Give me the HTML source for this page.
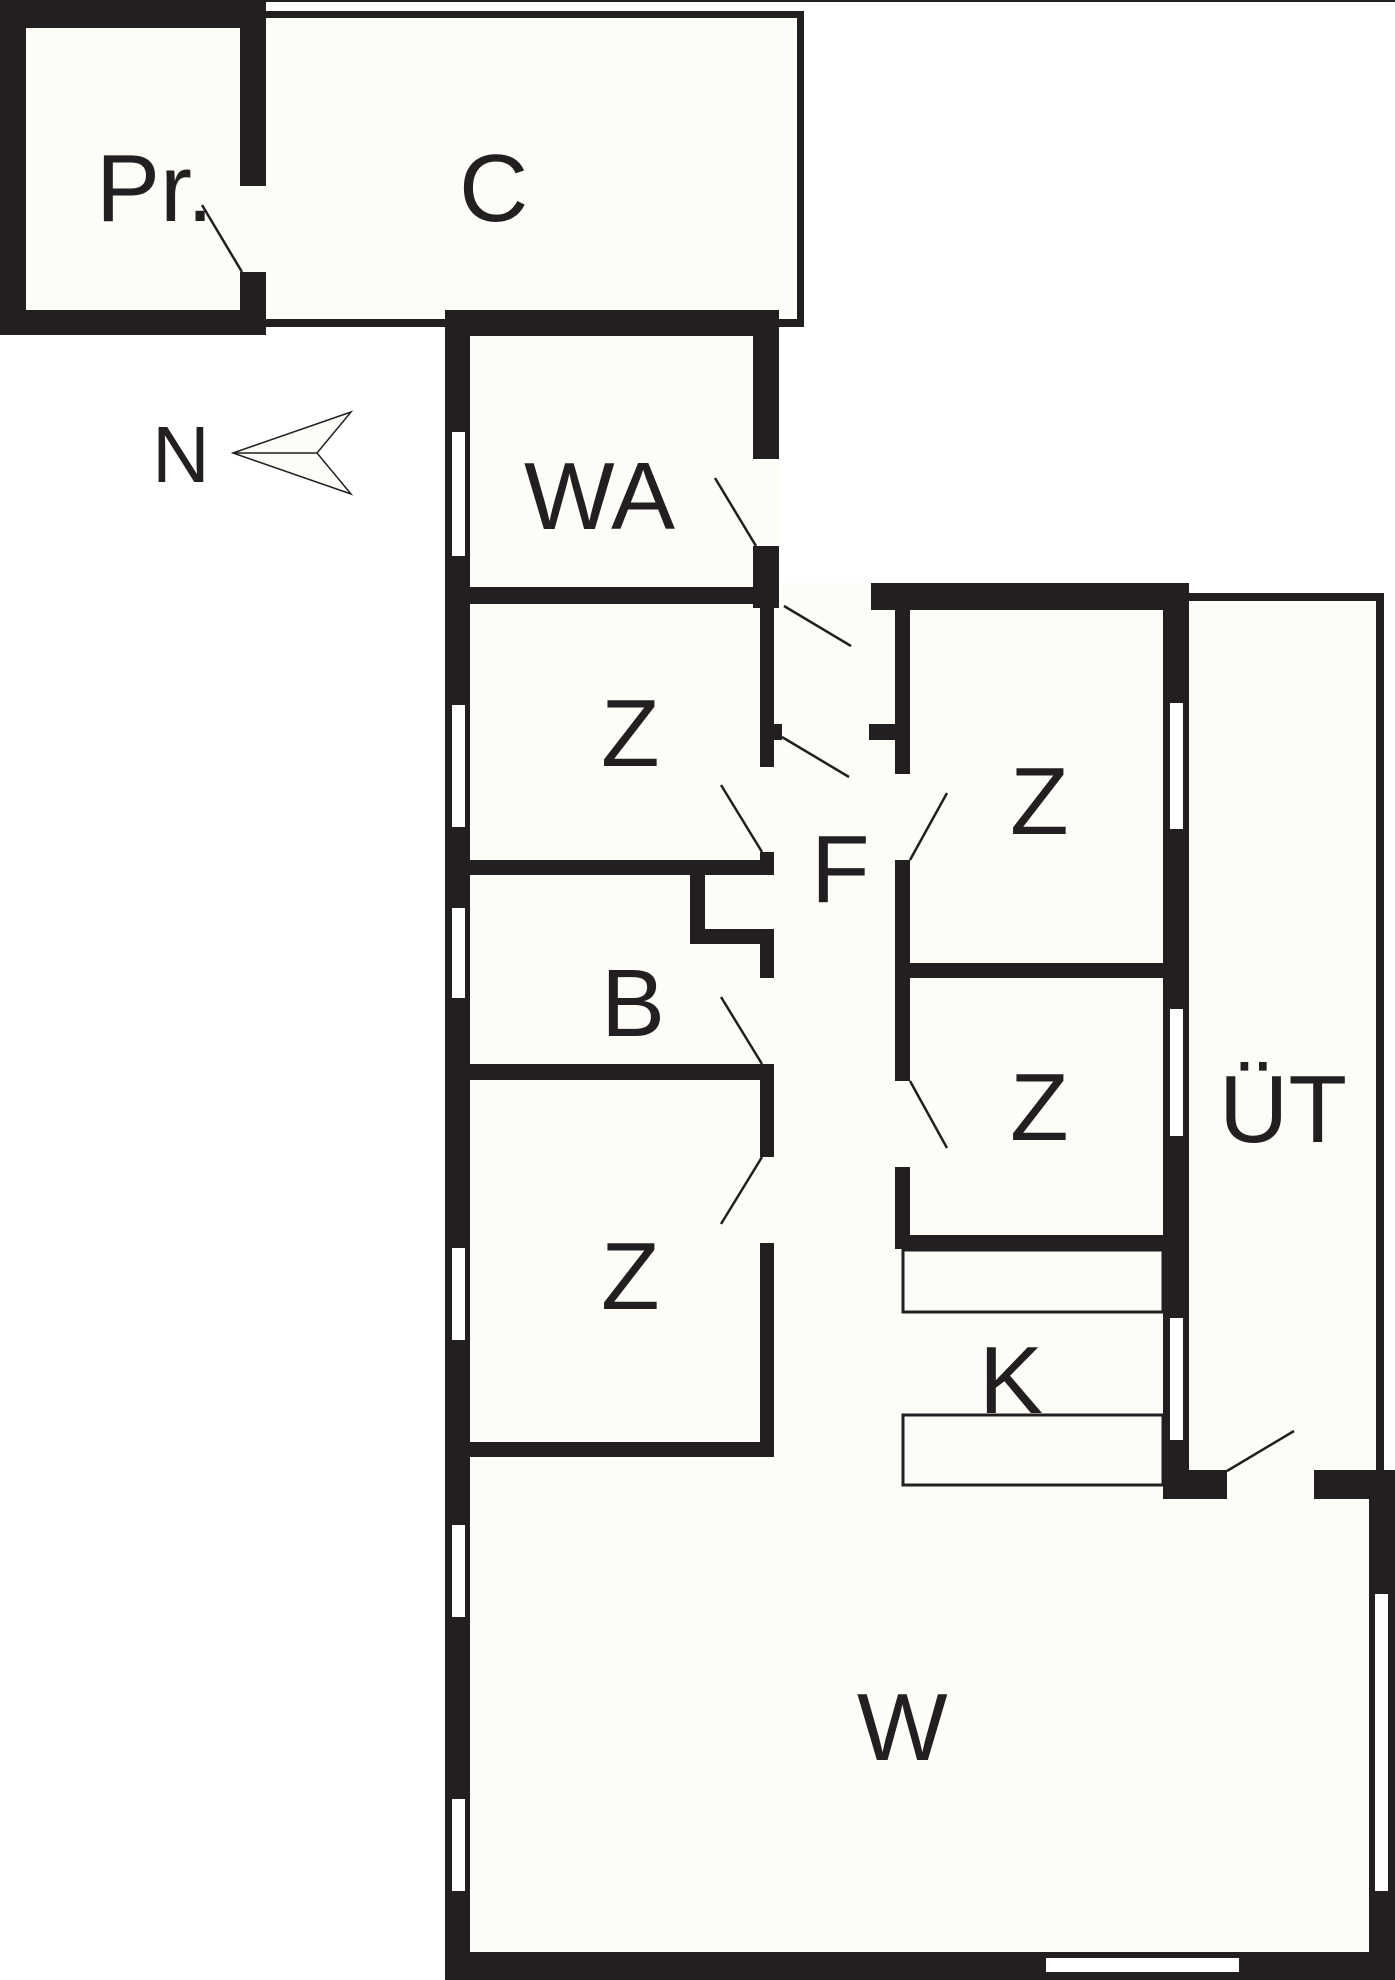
<!DOCTYPE html>
<html><head><meta charset="utf-8"><style>
html,body{margin:0;padding:0;background:#fff}
svg{display:block}
text{font-family:"Liberation Sans",sans-serif;fill:#231f20}
</style></head><body>
<svg width="1395" height="1980" viewBox="0 0 1395 1980" xmlns="http://www.w3.org/2000/svg">
<g fill="#fdfdf8">
<rect x="445" y="310" width="334" height="1670"/>
<rect x="774" y="583" width="415" height="1397"/>
<rect x="1189" y="593" width="196" height="1387"/>
<rect x="1385" y="1470" width="10" height="510"/>
</g>
<rect x="0" y="0" width="1395" height="2" fill="#231f20"/>
<!-- Pr -->
<rect x="0" y="2" width="266" height="333" fill="#231f20"/>
<rect x="26" y="28" width="214" height="282" fill="#fdfdf8"/>
<rect x="240" y="186" width="26" height="86" fill="#fdfdf8"/>
<!-- C -->
<rect x="266" y="11" width="538" height="316" fill="#231f20"/>
<rect x="266" y="18" width="531" height="301" fill="#fdfdf8"/>
<g fill="#231f20">
<rect x="445" y="310" width="334" height="26"/>
<rect x="445" y="310" width="25" height="1670"/>
<rect x="753" y="310" width="26" height="149"/>
<rect x="753" y="546" width="26" height="62"/>
<rect x="470" y="587" width="309" height="17"/>
<rect x="871" y="583" width="318" height="27"/>
<rect x="760" y="604" width="14" height="136"/>
<rect x="760" y="724" width="22" height="16"/>
<rect x="895" y="610" width="15" height="164"/>
<rect x="869" y="724" width="41" height="16"/>
<rect x="760" y="740" width="14" height="27"/>
<rect x="760" y="852" width="14" height="23"/>
<rect x="470" y="860" width="304" height="15"/>
<rect x="690" y="875" width="15" height="69"/>
<rect x="690" y="929" width="84" height="15"/>
<rect x="760" y="929" width="14" height="49"/>
<rect x="470" y="1064" width="304" height="16"/>
<rect x="760" y="1064" width="14" height="93"/>
<rect x="760" y="1243" width="14" height="214"/>
<rect x="470" y="1442" width="304" height="15"/>
<rect x="895" y="860" width="15" height="221"/>
<rect x="895" y="1167" width="15" height="82"/>
<rect x="910" y="963" width="253" height="15"/>
<rect x="895" y="1235" width="268" height="14"/>
<rect x="1163" y="583" width="26" height="916"/>
<rect x="1163" y="1470" width="64" height="29"/>
<rect x="1314" y="1470" width="81" height="29"/>
<rect x="1369" y="1470" width="26" height="510"/>
<rect x="445" y="1952" width="950" height="28"/>
<rect x="1189" y="593" width="195" height="8"/>
<rect x="1376" y="593" width="8" height="880"/>
</g>
<!-- windows -->
<g fill="#fff">
<rect x="452" y="432" width="13" height="124"/>
<rect x="452" y="705" width="13" height="122"/>
<rect x="452" y="908" width="13" height="90"/>
<rect x="452" y="1248" width="13" height="92"/>
<rect x="452" y="1525" width="13" height="92"/>
<rect x="452" y="1799" width="13" height="92"/>
<rect x="1170" y="703" width="13" height="126"/>
<rect x="1170" y="1009" width="13" height="127"/>
<rect x="1170" y="1318" width="13" height="122"/>
<rect x="1375" y="1594" width="13" height="297"/>
<rect x="1046" y="1958" width="193" height="14"/>
</g>
<!-- kitchen -->
<rect x="903" y="1250" width="260" height="62" fill="#fdfdf8" stroke="#231f20" stroke-width="3"/>
<rect x="903" y="1415" width="260" height="70" fill="#fdfdf8" stroke="#231f20" stroke-width="3"/>
<!-- door swings -->
<g stroke="#231f20" stroke-width="2.5" fill="none">
<line x1="202" y1="205" x2="242" y2="272"/>
<line x1="715" y1="478" x2="756" y2="546"/>
<line x1="784" y1="606" x2="851" y2="646"/>
<line x1="782" y1="737" x2="849" y2="777"/>
<line x1="721" y1="785" x2="762" y2="852"/>
<line x1="721" y1="997" x2="762" y2="1064"/>
<line x1="762" y1="1157" x2="721" y2="1224"/>
<line x1="910" y1="860" x2="947" y2="793"/>
<line x1="910" y1="1081" x2="947" y2="1148"/>
<line x1="1227" y1="1471" x2="1294" y2="1431"/>
</g>
<!-- north arrow -->
<g stroke="#231f20" stroke-width="1.5" fill="#fdfdf8">
<polygon points="233,453 351,412 317,453 351,494"/>
<line x1="233" y1="453" x2="317" y2="453"/>
</g>
<g font-size="96">
<text x="96" y="221">Pr.</text>
<text x="459" y="221">C</text>
<text x="524" y="529">WA</text>
<text x="601" y="766">Z</text>
<text x="1010" y="834">Z</text>
<text x="811" y="902">F</text>
<text x="601" y="1036">B</text>
<text x="1010" y="1140">Z</text>
<text x="1219" y="1142">ÜT</text>
<text x="601" y="1309">Z</text>
<text x="979" y="1413">K</text>
<text x="857" y="1760">W</text>
<text x="152" y="482" font-size="80">N</text>
</g>
</svg>
</body></html>
